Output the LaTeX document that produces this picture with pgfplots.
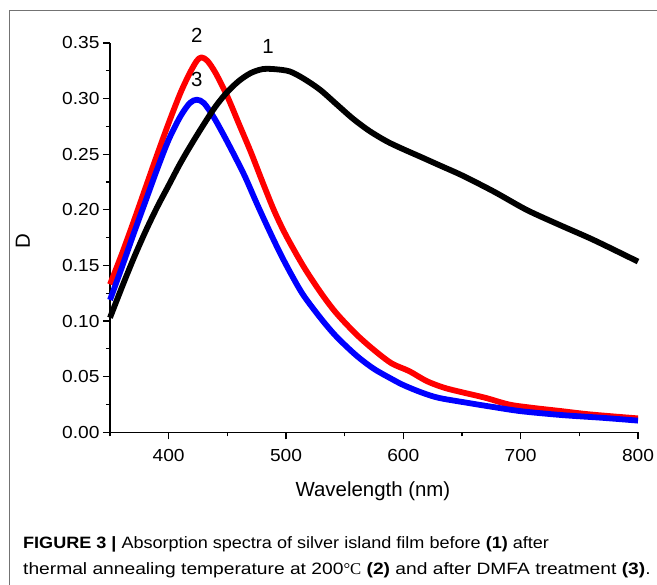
\documentclass[border=0pt]{standalone}
\usepackage{pgfplots}
\pgfplotsset{compat=1.18}
\usepackage{fontspec}
\setmainfont{Liberation Sans}
\newfontfamily\axfont[FakeStretch=1.1]{Liberation Sans}
\newfontfamily\capfont[FakeStretch=1.15]{Liberation Sans}
\newfontfamily\serfont{Liberation Serif}
\begin{document}
\begin{tikzpicture}
\useasboundingbox (0,0) rectangle (657bp,585bp);
\draw[black!55, line width=1bp] (9.5bp,0) -- (9.5bp,574.5bp) -- (657bp,574.5bp);
\begin{axis}[
  at={(110bp,152.7bp)}, anchor=south west,
  scale only axis, width=528bp, height=389.3bp,
  xmin=350, xmax=800, ymin=0, ymax=0.35,
  axis x line*=bottom, axis y line*=left,
  axis line style={line width=1.2bp, -},
  every tick/.style={black, line width=1.2bp},
  tick align=outside,
  major tick length=7bp, minor tick length=4bp,
  xtick={400,500,600,700,800},
  minor xtick={350,450,550,650,750},
  ytick={0,0.05,0.10,0.15,0.20,0.25,0.30,0.35},
  minor ytick={0.025,0.075,0.125,0.175,0.225,0.275,0.325},
  /pgf/number format/assume math mode=true,
  yticklabel style={/pgf/number format/fixed, /pgf/number format/fixed zerofill, /pgf/number format/precision=2},
  xticklabel style={yshift=-7bp},
  scaled y ticks=false,
  ticklabel style={font=\axfont\fontsize{17.5}{17.5}\selectfont},
  xlabel={Wavelength (nm)},
  ylabel={D},
  label style={font=\fontsize{20.5}{20.5}\selectfont},
  xlabel style={at={(axis description cs:0.498,-0.151)}, anchor=center},
  ylabel style={at={(axis description cs:-0.165,0.492)}, anchor=center, rotate=0},
  clip=false,
]
\addplot[red, line width=5.8bp, smooth, line join=round] coordinates {
(350,0.133) (360,0.160) (370,0.189) (380,0.219) (390,0.249) (400,0.278)
(410,0.305) (418,0.323) (424,0.334) (428,0.337) (433,0.334) (440,0.323)
(450,0.302) (460,0.277) (470,0.252) (480,0.225) (490,0.199) (500,0.177)
(515,0.149) (530,0.125) (543,0.107) (560,0.088) (575,0.074) (590,0.062)
(605,0.055) (620,0.046) (635,0.040) (650,0.036) (670,0.031) (690,0.025)
(710,0.022) (735,0.019) (760,0.016) (800,0.0125)
};
\addplot[blue, line width=5.8bp, smooth, line join=round] coordinates {
(350,0.119) (360,0.148) (370,0.178) (380,0.207) (390,0.236) (400,0.263)
(410,0.284) (418,0.296) (424,0.299) (430,0.296) (438,0.284) (446,0.269)
(455,0.251) (465,0.230) (475,0.206) (485,0.183) (495,0.161) (505,0.141)
(515,0.123) (530,0.102) (543,0.086) (560,0.069) (575,0.057) (590,0.048)
(600,0.0425) (615,0.036) (630,0.031) (654,0.0266) (675,0.023) (700,0.019)
(735,0.0155) (770,0.013) (800,0.0105)
};
\addplot[black, line width=5.8bp, smooth, line join=round] coordinates {
(350,0.103) (360,0.130) (370,0.156) (380,0.180) (390,0.202) (400,0.222)
(410,0.242) (420,0.260) (430,0.277) (440,0.293) (450,0.306) (460,0.316)
(470,0.323) (480,0.3265) (490,0.3265) (503,0.3245) (515,0.318) (529,0.308)
(543,0.295) (557,0.282) (571,0.271) (586,0.2615) (600,0.2545) (614,0.248)
(632,0.2395) (650,0.231) (677,0.2165) (705,0.200) (733,0.1865) (762,0.173)
(800,0.1535)
};
\node[font=\fontsize{20.5}{20.5}\selectfont] at (axis cs:424,0.3566) {2};
\node[font=\fontsize{20.5}{20.5}\selectfont] at (axis cs:484.7,0.3467) {1};
\node[font=\fontsize{20.5}{20.5}\selectfont] at (axis cs:424,0.317) {3};
\end{axis}
\node[anchor=base west, inner sep=0pt, font=\capfont\fontsize{16.5}{16.5}\selectfont] at (23bp,37bp)
  {\scalebox{0.955}[1]{\textbf{FIGURE 3 |} Absorption spectra of silver island film before \textbf{(1)} after}};
\node[anchor=base west, inner sep=0pt, font=\capfont\fontsize{16.5}{16.5}\selectfont] at (23bp,10.5bp)
  {\scalebox{1.016}[1]{thermal annealing temperature at 200{\serfont°C} \textbf{(2)} and after DMFA treatment \textbf{(3)}.}};
\end{tikzpicture}
\end{document}
